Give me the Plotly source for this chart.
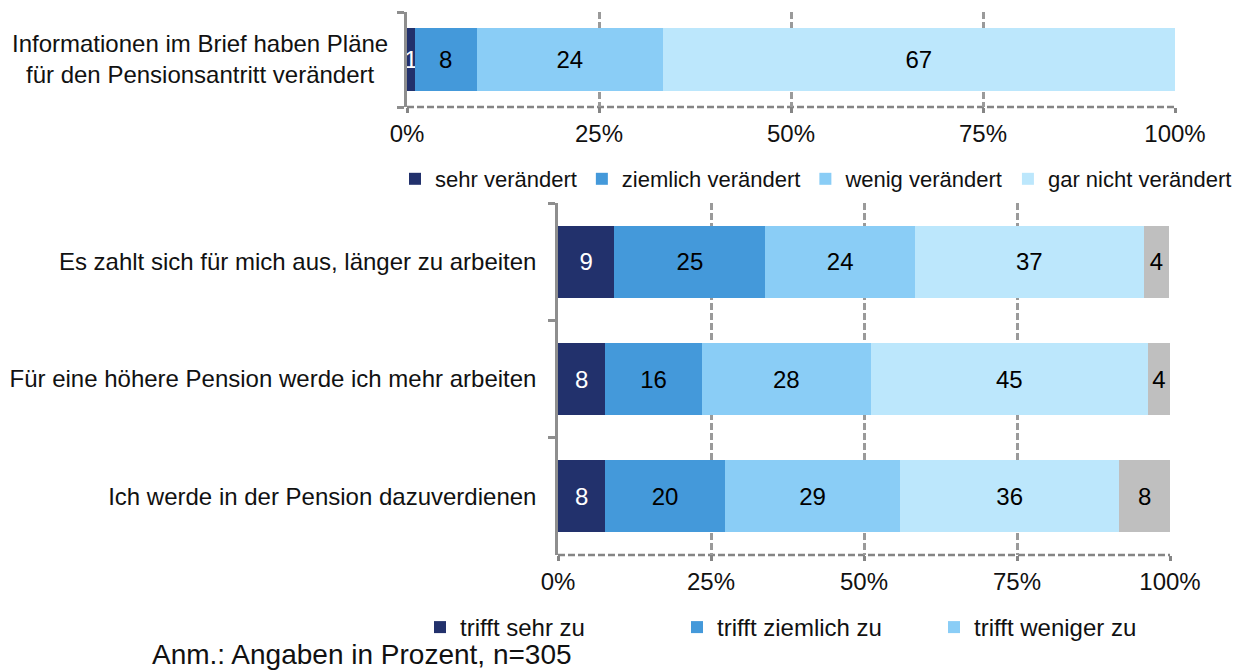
import plotly.graph_objects as go

# ---------------- data ----------------
top_category = ["Informationen im Brief haben Pläne<br>für den Pensionsantritt verändert"]
top_series = ["sehr verändert", "ziemlich verändert", "wenig verändert", "gar nicht verändert"]
top_values = {
    "sehr verändert": [1.0],
    "ziemlich verändert": [8.1],
    "wenig verändert": [24.2],
    "gar nicht verändert": [66.7],
}

bottom_categories = [
    "Es zahlt sich für mich aus, länger zu arbeiten",
    "Für eine höhere Pension werde ich mehr arbeiten",
    "Ich werde in der Pension dazuverdienen",
]
bottom_series = ["trifft sehr zu", "trifft ziemlich zu", "trifft weniger zu", "trifft gar nicht zu", "keine Angabe"]
bottom_values = {
    "trifft sehr zu": [9.2, 7.7, 7.7],
    "trifft ziemlich zu": [24.7, 15.8, 19.6],
    "trifft weniger zu": [24.4, 27.6, 28.6],
    "trifft gar nicht zu": [37.4, 45.3, 35.8],
    "keine Angabe": [4.2, 3.6, 8.3],
}
bottom_in_legend = ["trifft sehr zu", "trifft ziemlich zu", "trifft weniger zu"]

x_ticks = [0, 25, 50, 75, 100]
x_ticklabels = ["0%", "25%", "50%", "75%", "100%"]
note = "Anm.: Angaben in Prozent, n=305"

# ---------------- styles ----------------
colors = ["#22316C", "#4499DA", "#8ACDF6", "#BCE7FC", "#BFBFBF"]
text_colors = ["white", "black", "black", "black", "black"]
FONT = "Liberation Sans, Arial, sans-serif"
FS = 24
W, H = 1242, 672
OFF = 8  # page body margin
GRID = "#9a9a9a"
BASE = "#858585"
AXIS = "#8e8e8e"
DASH = "7px,3px"

fig = go.Figure()

for i, s in enumerate(top_series):
    fig.add_trace(go.Bar(
        x=top_values[s], y=top_category, orientation="h", name=s,
        marker=dict(color=colors[i], line=dict(width=0)),
        width=0.67,
        texttemplate="%{x:.0f}", textposition="inside", insidetextanchor="middle",
        constraintext="none",
        textfont=dict(color=text_colors[i], size=FS, family=FONT),
        xaxis="x", yaxis="y", legend="legend", hoverinfo="skip",
    ))

for i, s in enumerate(bottom_series):
    fig.add_trace(go.Bar(
        x=bottom_values[s], y=bottom_categories, orientation="h", name=s,
        marker=dict(color=colors[i], line=dict(width=0)),
        width=0.615,
        texttemplate="%{x:.0f}", textposition="inside", insidetextanchor="middle",
        constraintext="none",
        textfont=dict(color=text_colors[i], size=FS, family=FONT),
        xaxis="x2", yaxis="y2", legend="legend2",
        showlegend=s in bottom_in_legend, hoverinfo="skip",
    ))

def px_x(p):
    return (p - OFF) / W

def px_y(p):
    return 1 - (p - OFF) / H

xaxis_common = dict(
    range=[0, 100], tickvals=x_ticks, ticktext=x_ticklabels,
    showgrid=True, gridcolor=GRID, gridwidth=2.5, griddash=DASH,
    zeroline=False, showline=False,
    ticks="outside", ticklen=5, tickcolor=BASE, tickwidth=2.5,
    tickfont=dict(size=FS, family=FONT, color="#111"),
    automargin=False, fixedrange=True,
)
yaxis_common = dict(
    type="category", tickson="boundaries",
    showline=True, linecolor=AXIS, linewidth=2.5,
    ticks="outside", ticklen=7, tickcolor=AXIS, tickwidth=2.5,
    showgrid=False, zeroline=False,
    tickfont=dict(size=FS, family=FONT, color="#111"),
    automargin=False, fixedrange=True,
)

fig.update_layout(
    width=W, height=H,
    margin=dict(l=0, r=0, t=0, b=0, autoexpand=False),
    paper_bgcolor="white", plot_bgcolor="white",
    barmode="stack",
    font=dict(family=FONT, size=FS, color="#111"),
    xaxis=dict(domain=[px_x(407), px_x(1175)], anchor="y", **xaxis_common),
    yaxis=dict(domain=[px_y(107), px_y(12)], anchor="x", showticklabels=False, **yaxis_common),
    xaxis2=dict(domain=[px_x(558), px_x(1170)], anchor="y2", **xaxis_common),
    yaxis2=dict(domain=[px_y(555), px_y(203)], anchor="x2", autorange="reversed",
                ticklabelstandoff=14, **yaxis_common),
    legend=dict(
        orientation="h", x=px_x(395), xanchor="left", y=px_y(158), yanchor="top",
        font=dict(size=22, family=FONT, color="#111"),
        itemwidth=30, tracegroupgap=0, traceorder="normal", bgcolor="rgba(0,0,0,0)",
    ),
    legend2=dict(
        orientation="h", x=px_x(420), xanchor="left", y=px_y(605), yanchor="top",
        font=dict(size=FS, family=FONT, color="#111"),
        itemwidth=30, entrywidth=212, traceorder="normal", bgcolor="rgba(0,0,0,0)",
    ),
    showlegend=True,
)

# top category label (centered two-line text)
fig.add_annotation(
    x=px_x(390), xref="paper", xanchor="right",
    y=top_category[0], yref="y", yanchor="middle",
    text=top_category[0], showarrow=False, align="center",
    font=dict(size=FS, family=FONT, color="#111"),
)

# dashed x baselines
for xa, ya in (("x", "y domain"), ("x2", "y2 domain")):
    fig.add_shape(type="line", xref=xa, yref=ya, x0=0, x1=100, y0=0, y1=0,
                  line=dict(color=BASE, width=2.5, dash=DASH), layer="below")

fig.add_annotation(
    x=px_x(150), xref="paper", xanchor="left",
    y=px_y(654), yref="paper", yanchor="middle",
    text=note, showarrow=False,
    font=dict(size=28, family=FONT, color="#111"),
)

fig.write_html("out.html")
